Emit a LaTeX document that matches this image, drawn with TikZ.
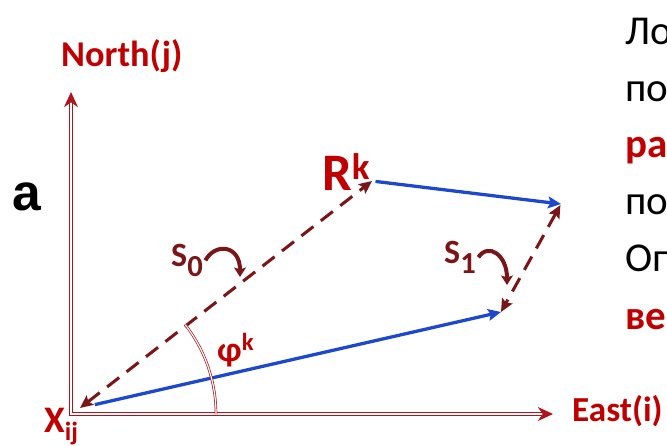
\documentclass[tikz,border=0pt]{standalone}
\usepackage{fontspec}
\setmainfont{Carlito}
\newfontfamily\arialfont{Liberation Sans}
\usepackage{xcolor}
\usetikzlibrary{arrows.meta}

\definecolor{axisred}{RGB}{175,20,28}
\definecolor{labred}{RGB}{192,0,0}
\definecolor{darkmaroon}{RGB}{122,22,24}
\definecolor{vecblue}{RGB}{28,72,205}

\newcommand{\lowidx}[1]{\raisebox{-0.32em}{\scalebox{0.9}{#1}}}

\begin{document}
\begin{tikzpicture}[x=0.03cm, y=-0.03cm,
    every node/.style={inner sep=0pt, anchor=base west},
    lbl/.style={text=labred, font=\bfseries\fontsize{31}{36}\selectfont},
    turnlbl/.style={text=darkmaroon, font=\bfseries\fontsize{29}{34}\selectfont},
    side/.style={font=\fontsize{35}{40}\selectfont},
    keyword/.style={text=labred, font=\bfseries\fontsize{35}{40}\selectfont},
    axis/.style={draw=axisred, double=white, line width=1pt, double distance=1.4pt},
    vec/.style={draw=vecblue, line width=2.8pt, -{Stealth[length=11pt, width=10pt, inset=2pt]}},
    vecdash/.style={draw=darkmaroon, line width=2.6pt, dash pattern=on 13pt off 8pt,
        {Stealth[length=11pt, width=10pt, inset=2pt]}-{Stealth[length=11pt, width=10pt, inset=2pt]}},
    turn/.style={draw=darkmaroon, line width=3.4pt, -{Stealth[length=8pt, width=10pt, inset=1.5pt]}},
    angarc/.style={draw=axisred, double=white, line width=0.6pt, double distance=1pt}]
    \useasboundingbox (0,0) rectangle (667,446);
    \clip (0,0) rectangle (667,446);

    % axes
    \coordinate (O) at (71,414);
    \coordinate (N) at (71,92);
    \coordinate (E) at (553,414);
    \draw[axis, {Stealth[length=13pt, width=12pt]}-{Stealth[length=13pt, width=12pt]}] (N) -- (O) -- (E);
    \node[lbl] (north) at (61,66) {North(j)};
    \node[lbl, font=\bfseries\fontsize{30}{36}\selectfont] (east) at (572,421) {East(i)};

    % points
    \coordinate (X) at (80,408);
    \coordinate (R) at (372,181);
    \coordinate (P1) at (561,204);
    \coordinate (P2) at (501,312);

    % vectors
    \draw[vecdash] (X) -- (R);
    \draw[vec, shorten <=3pt] (R) -- (P1);
    \draw[vecdash, shorten <=1pt] (P1) -- (P2);
    \draw[vec, shorten <=13pt] (X) -- (P2);

    % angle
    \draw[angarc] (O) ++(0:145) arc[start angle=0, end angle=-38, radius=145];
    \node[lbl, font=\bfseries\fontsize{30}{34}\selectfont] (phi) at (217,361) {φ\textsuperscript{k}};

    % labels
    \node[lbl, font=\bfseries\fontsize{45}{50}\selectfont] (rk) at (322,190) {R\textsuperscript{k}};
    \node[lbl, font=\bfseries\fontsize{32}{36}\selectfont] (xij) at (44,432) {X\textsubscript{ij}};
    \node[font=\arialfont\bfseries\fontsize{44}{50}\selectfont] (alabel) at (12,210) {a};

    % turns
    \node[turnlbl] (s0) at (171,266) {S\lowidx{0}};
    \node[turnlbl] (s1) at (444,263) {S\lowidx{1}};
    \coordinate (s0tip) at (240,277);
    \coordinate (s1tip) at (507,285);
    \draw[turn] ([xshift=2pt]s0.east) .. controls +(10,-18) and +(0,-32) .. (s0tip);
    \draw[turn] ([xshift=2pt]s1.east) .. controls +(10,-15) and +(0,-30) .. (s1tip);

    % side text
    \node[side] (t1) at (625,44) {Ло};
    \node[side] (t2) at (625,101) {по};
    \node[keyword] (t3) at (625,157) {ра};
    \node[side] (t4) at (625,214) {по};
    \node[side] (t5) at (625,271) {Оп};
    \node[keyword] (t6) at (625,329) {ве};
\end{tikzpicture}
\end{document}
